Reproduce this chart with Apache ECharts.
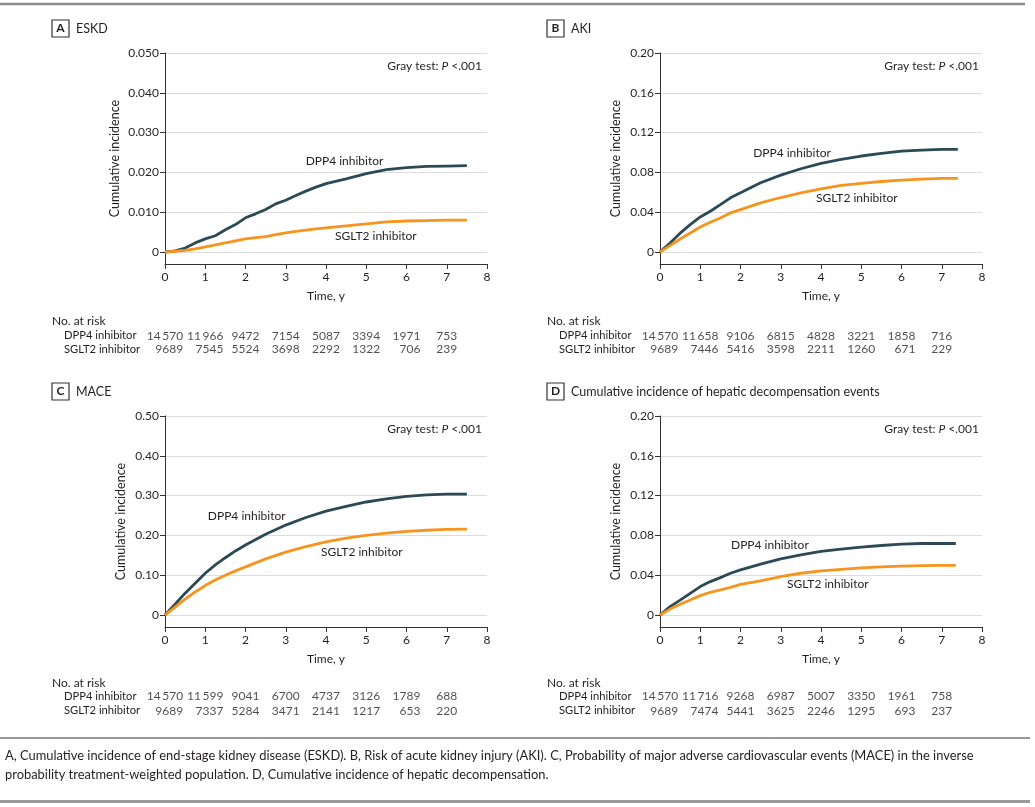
<!DOCTYPE html>
<html><head><meta charset="utf-8">
<script src="https://cdn.jsdelivr.net/npm/echarts@6/dist/echarts.min.js"></script>
<style>html,body{margin:0;padding:0;background:#fff}#c{width:1035px;height:807px}</style>
</head><body><div id="c"></div>
<script>
// ---------------- data ----------------
const years = [0, 1, 2, 3, 4, 5, 6, 7];
const xTicks = [0, 1, 2, 3, 4, 5, 6, 7, 8];
const riskRows = ['DPP4 inhibitor', 'SGLT2 inhibitor'];

// A, ESKD
const timeA = [0,0.25,0.5,0.75,1,1.25,1.5,1.75,2,2.25,2.5,2.75,3,3.25,3.5,3.75,4,4.5,5,5.5,6,6.5,7,7.5];
const dppA  = [0,0.0003,0.001,0.0023,0.0033,0.0041,0.0056,0.0069,0.0086,0.0096,0.0107,0.0121,0.013,0.0142,0.0153,0.0163,0.0172,0.0184,0.0197,0.0207,0.0212,0.0215,0.0216,0.0217];
const sgltA = [0,0.0002,0.0004,0.0008,0.0013,0.0018,0.0023,0.0028,0.0033,0.0036,0.0039,0.0044,0.0048,0.0052,0.0055,0.0058,0.0061,0.0066,0.0071,0.0076,0.0078,0.0079,0.008,0.008];
const yTicksA = [0, 0.01, 0.02, 0.03, 0.04, 0.05];
const riskDppA  = [14570, 11966, 9472, 7154, 5087, 3394, 1971, 753];
const riskSgltA = [9689, 7545, 5524, 3698, 2292, 1322, 706, 239];

// B, AKI
const timeB = [0,0.25,0.5,0.75,1,1.25,1.5,1.75,2,2.5,3,3.5,4,4.5,5,5.5,6,6.5,7,7.4];
const dppB  = [0,0.009,0.019,0.0276,0.0353,0.041,0.0477,0.0545,0.0595,0.0696,0.0773,0.0837,0.089,0.0931,0.0965,0.0992,0.1015,0.1025,0.1032,0.1032];
const sgltB = [0,0.0064,0.0131,0.0192,0.0252,0.03,0.0343,0.0393,0.0427,0.0494,0.0548,0.0595,0.0635,0.0669,0.0689,0.0709,0.0723,0.0733,0.074,0.074];
const yTicksB = [0, 0.04, 0.08, 0.12, 0.16, 0.20];
const riskDppB  = [14570, 11658, 9106, 6815, 4828, 3221, 1858, 716];
const riskSgltB = [9689, 7446, 5416, 3598, 2211, 1260, 671, 229];

// C, MACE
const timeC = [0,0.25,0.5,0.75,1,1.25,1.5,1.75,2,2.5,3,3.5,4,4.5,5,5.5,6,6.5,7,7.5];
const dppC  = [0,0.027,0.055,0.08,0.105,0.126,0.144,0.161,0.176,0.203,0.226,0.245,0.261,0.273,0.284,0.292,0.298,0.302,0.304,0.304];
const sgltC = [0,0.02,0.04,0.058,0.074,0.088,0.1,0.111,0.121,0.141,0.158,0.172,0.184,0.193,0.2,0.206,0.21,0.213,0.215,0.216];
const yTicksC = [0, 0.1, 0.2, 0.3, 0.4, 0.5];
const riskDppC  = [14570, 11599, 9041, 6700, 4737, 3126, 1789, 688];
const riskSgltC = [9689, 7337, 5284, 3471, 2141, 1217, 653, 220];

// D, hepatic decompensation
const timeD = [0,0.25,0.5,0.75,1,1.25,1.5,1.75,2,2.5,3,3.5,4,4.5,5,5.5,6,6.5,7,7.35];
const dppD  = [0,0.0084,0.015,0.0218,0.0286,0.0336,0.0376,0.042,0.0454,0.0511,0.0565,0.0605,0.0639,0.0662,0.0682,0.0699,0.0713,0.0719,0.0719,0.0719];
const sgltD = [0,0.006,0.0108,0.0151,0.0195,0.0229,0.0252,0.0279,0.0309,0.0343,0.0387,0.042,0.0444,0.046,0.0474,0.0484,0.0491,0.0497,0.05,0.05];
const yTicksD = [0, 0.04, 0.08, 0.12, 0.16, 0.20];
const riskDppD  = [14570, 11716, 9268, 6987, 5007, 3350, 1961, 758];
const riskSgltD = [9689, 7474, 5441, 3625, 2246, 1295, 693, 237];

const captionText = 'A, Cumulative incidence of end-stage kidney disease (ESKD). B, Risk of acute kidney injury (AKI). C, Probability of major adverse cardiovascular events (MACE) in the inverse\nprobability treatment-weighted population. D, Cumulative incidence of hepatic decompensation.';

// ---------------- layout / style ----------------
const FONT = 'Lato, "Open Sans", sans-serif';
const TXT = '#231f20';
const DPP_COLOR = '#2c4a55';
const SGLT_COLOR = '#f7941d';

const panels = [
  {letter:'A', title:'ESKD', time:timeA, dpp:dppA, sglt:sgltA, ticks:yTicksA, yMin:-0.003, dec:3, rd:riskDppA, rs:riskSgltA,
   left:165, top:53, riskTop:329, riskH:27, nameGap:44, lx:52, ly:20, dppLab:[4.46,0.0229], sgltLab:[5.24,0.0040], gray:[482,66], noRisk:[52,321]},
  {letter:'B', title:'AKI', time:timeB, dpp:dppB, sglt:sgltB, ticks:yTicksB, yMin:-0.012, dec:2, rd:riskDppB, rs:riskSgltB,
   left:660, top:53, riskTop:329, riskH:27, nameGap:38, lx:547, ly:20, dppLab:[3.28,0.0992], sgltLab:[4.89,0.0538], gray:[979,66], noRisk:[547,321]},
  {letter:'C', title:'MACE', time:timeC, dpp:dppC, sglt:sgltC, ticks:yTicksC, yMin:-0.03, dec:2, rd:riskDppC, rs:riskSgltC,
   left:165, top:416, riskTop:689, riskH:29, nameGap:38, lx:52, ly:383, dppLab:[2.03,0.2496], sgltLab:[4.89,0.159], gray:[482,429], noRisk:[52,683]},
  {letter:'D', title:'Cumulative incidence of hepatic decompensation events', time:timeD, dpp:dppD, sglt:sgltD, ticks:yTicksD, yMin:-0.012, dec:2, rd:riskDppD, rs:riskSgltD,
   left:660, top:416, riskTop:689, riskH:29, nameGap:38, lx:547, ly:383, dppLab:[2.73,0.0706], sgltLab:[4.17,0.0313], gray:[979,429], noRisk:[547,683]}
];

const PW = 322, PH = 211, FS = 12;

function fmtN(n) {
  const s = String(n);
  return s.length > 4 ? s.slice(0, s.length - 3) + '\u2009' + s.slice(-3) : s;
}
const ctx = document.createElement('canvas').getContext('2d');
ctx.font = FS + 'px ' + FONT;
function tw(s) { return ctx.measureText(s).width; }

const grid = [], xAxis = [], yAxis = [], series = [], graphic = [];

panels.forEach((p, i) => {
  const gData = 2 * i, gRisk = 2 * i + 1;
  grid.push({left: p.left, top: p.top, width: PW, height: PH});
  grid.push({left: p.left, top: p.riskTop, width: PW, height: p.riskH});

  xAxis.push({
    gridIndex: gData, type: 'value', min: 0, max: 8, interval: 1,
    axisLine: {show: true, onZero: false, lineStyle: {color: '#333', width: 1}},
    axisTick: {show: true, length: 5, lineStyle: {color: '#333'}},
    axisLabel: {fontFamily: FONT, fontSize: FS, color: TXT, margin: 7},
    splitLine: {show: false},
    name: 'Time, y', nameLocation: 'middle', nameGap: 26,
    nameTextStyle: {fontFamily: FONT, fontSize: FS, color: TXT}
  });
  xAxis.push({gridIndex: gRisk, type: 'value', min: 0, max: 8, show: false});

  const maxV = p.ticks[p.ticks.length - 1];
  yAxis.push({
    gridIndex: gData, type: 'value', min: p.yMin, max: maxV,
    axisLine: {show: true, onZero: false, lineStyle: {color: '#333', width: 1}},
    axisTick: {show: true, length: 5, customValues: p.ticks, lineStyle: {color: '#333'}},
    axisLabel: {customValues: p.ticks, fontFamily: FONT, fontSize: FS, color: TXT, margin: 6,
      formatter: v => (Math.abs(v) < 1e-9 ? '0' : v.toFixed(p.dec))},
    splitLine: {show: true, lineStyle: {color: '#dcdcdc', width: 1}},
    name: 'Cumulative incidence', nameLocation: 'middle', nameGap: p.nameGap,
    nameTextStyle: {fontFamily: FONT, fontSize: 12.5, color: TXT}
  });
  yAxis.push({
    gridIndex: gRisk, type: 'category', data: riskRows, inverse: true,
    axisLine: {show: false}, axisTick: {show: false}, splitLine: {show: false},
    axisLabel: {interval: 0, hideOverlap: false, align: 'left', margin: 101, fontFamily: FONT, fontSize: 11.2, color: TXT}
  });

  const lineBase = {
    type: 'line', xAxisIndex: gData, yAxisIndex: gData, showSymbol: false, symbol: 'none',
    silent: true, animation: false
  };
  series.push(Object.assign({}, lineBase, {
    name: 'DPP4 inhibitor', data: p.time.map((t, k) => [t, p.dpp[k]]),
    lineStyle: {color: DPP_COLOR, width: 2.8},
    markPoint: {symbol: 'circle', symbolSize: 0, silent: true, animation: false,
      label: {show: true, position: 'inside', formatter: 'DPP4 inhibitor', fontFamily: FONT, fontSize: FS, color: TXT},
      data: [{coord: p.dppLab}]}
  }));
  series.push(Object.assign({}, lineBase, {
    name: 'SGLT2 inhibitor', data: p.time.map((t, k) => [t, p.sglt[k]]),
    lineStyle: {color: SGLT_COLOR, width: 2.8},
    markPoint: {symbol: 'circle', symbolSize: 0, silent: true, animation: false,
      label: {show: true, position: 'inside', formatter: 'SGLT2 inhibitor', fontFamily: FONT, fontSize: FS, color: TXT},
      data: [{coord: p.sgltLab}]}
  }));

  // risk table
  const riskData = [];
  years.forEach((y, k) => {
    const half = Math.max(tw(fmtN(p.rd[k])), tw(fmtN(p.rs[k]))) / 2;
    riskData.push({value: [y, 0, p.rd[k]], label: {offset: [half, 0]}});
    riskData.push({value: [y, 1, p.rs[k]], label: {offset: [half, 0]}});
  });
  series.push({
    type: 'scatter', xAxisIndex: gRisk, yAxisIndex: gRisk, symbolSize: 0, silent: true, animation: false,
    data: riskData,
    label: {show: true, position: 'inside', align: 'right', verticalAlign: 'middle',
      formatter: d => fmtN(d.value[2]), fontFamily: FONT, fontSize: FS, color: TXT}
  });

  // panel label + title
  graphic.push({type: 'rect', shape: {x: p.lx, y: p.ly, width: 17, height: 17},
    style: {fill: '#fff', stroke: '#333', lineWidth: 1.2}});
  graphic.push({type: 'text', x: p.lx + 8.5, y: p.ly + 8.5,
    style: {text: p.letter, fontFamily: FONT, fontWeight: 'bold', fontSize: FS, fill: TXT, align: 'center', verticalAlign: 'middle'}});
  graphic.push({type: 'text', x: p.lx + 24, y: p.ly + 8.5,
    style: {text: p.title, fontFamily: FONT, fontSize: 12.5, fill: TXT, align: 'left', verticalAlign: 'middle'}});
  graphic.push({type: 'text', x: p.gray[0], y: p.gray[1],
    style: {text: 'Gray test: {i|P} <.001', fontFamily: FONT, fontSize: FS, fill: TXT, align: 'right', verticalAlign: 'middle',
      rich: {i: {fontStyle: 'italic', fontFamily: FONT, fontSize: FS, fill: TXT}}}});
  graphic.push({type: 'text', x: p.noRisk[0], y: p.noRisk[1],
    style: {text: 'No. at risk', fontFamily: FONT, fontSize: FS, fill: TXT, align: 'left', verticalAlign: 'middle'}});
});

// rules and caption
graphic.push({type: 'line', shape: {x1: 0, y1: 4, x2: 1025, y2: 4}, style: {stroke: '#8c8c8c', lineWidth: 2.5}});
graphic.push({type: 'line', shape: {x1: 0, y1: 738, x2: 1030, y2: 738}, style: {stroke: '#333', lineWidth: 1}});
graphic.push({type: 'line', shape: {x1: 0, y1: 801.5, x2: 1030, y2: 801.5}, style: {stroke: '#9a9a9a', lineWidth: 3}});
graphic.push({type: 'text', x: 5, y: 746,
  style: {text: captionText, fontFamily: FONT, fontSize: 12.9, lineHeight: 19.5, fill: TXT, align: 'left', verticalAlign: 'top'}});

const chart = echarts.init(document.getElementById('c'), null, {renderer: 'canvas'});
chart.setOption({
  backgroundColor: '#fff',
  animation: false,
  grid, xAxis, yAxis, series, graphic
});
</script>
</body></html>
